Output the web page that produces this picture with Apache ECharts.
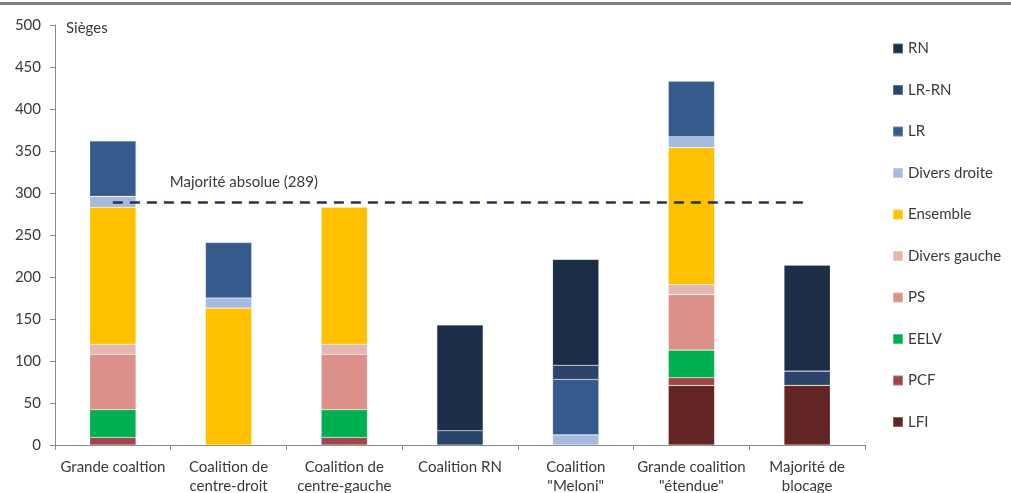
<!DOCTYPE html>
<html>
<head>
<meta charset="utf-8">
<script src="https://cdn.jsdelivr.net/npm/echarts@6/dist/echarts.min.js"></script>
<style>
  html, body { margin: 0; padding: 0; background: #fff; }
  #chart { width: 1011px; height: 493px; }
</style>
</head>
<body>
<div id="chart"></div>
<script>
// catégories (coalitions)
const categories = [
  'Grande coaltion',
  'Coalition de\ncentre-droit',
  'Coalition de\ncentre-gauche',
  'Coalition RN',
  'Coalition\n"Meloni"',
  'Grande coalition\n"étendue"',
  'Majorité de\nblocage'
]

// sièges par groupe (null = absent de la coalition)
const lfi = [null, null, null, null, null, 71, 71]
const pcf = [9, null, 9, null, null, 9, null]
const eelv = [33, null, 33, null, null, 33, null]
const ps = [66, null, 66, null, null, 66, null]
const diversGauche = [12, null, 12, null, null, 12, null]
const ensemble = [163, 163, 163, null, null, 163, null]
const diversDroite = [13, 12, null, null, 12, 13, null]
const lr = [66, 66, null, null, 66, 66, null]
const lrRn = [null, null, null, 17, 17, null, 17]
const rn = [null, null, null, 126, 126, null, 126]

const majorite = 289
const yTicks = { min: 0, max: 500, interval: 50 }

// ordre de pile : du bas vers le haut
const groups = [
  { name: 'LFI', data: lfi, color: '#632523' },
  { name: 'PCF', data: pcf, color: '#a0434a' },
  { name: 'EELV', data: eelv, color: '#00b050' },
  { name: 'PS', data: ps, color: '#dc908a' },
  { name: 'Divers gauche', data: diversGauche, color: '#e8b6b2' },
  { name: 'Ensemble', data: ensemble, color: '#ffc000' },
  { name: 'Divers droite', data: diversDroite, color: '#a6b9de' },
  { name: 'LR', data: lr, color: '#375a8c' },
  { name: 'LR-RN', data: lrRn, color: '#2b446b' },
  { name: 'RN', data: rn, color: '#1c2d48' }
]

const txt = '#3a3a3a'
const font = 'Lato'
const fs = 15

const chart = echarts.init(document.getElementById('chart'))

const series = groups.map((g, i) => {
  const s = {
    name: g.name,
    type: 'bar',
    stack: 'sieges',
    data: g.data,
    barWidth: '40%',
    itemStyle: {
      color: g.color,
      borderColor: 'rgba(255,255,255,0.3)',
      borderWidth: 0.6
    }
  }
  // ligne de majorité absolue sur la dernière série
  if (i === groups.length - 1) {
    s.markLine = {
      silent: true,
      symbol: 'none',
      lineStyle: { color: '#243553', type: [10, 7], width: 2.5 },
      label: {
        show: true,
        position: 'insideStartTop',
        formatter: 'Majorité absolue (' + majorite + ')',
        color: txt,
        fontFamily: font,
        fontSize: fs,
        distance: [57, 13]
      },
      data: [[{ coord: [0, majorite] }, { coord: [6, majorite] }]]
    }
  }
  return s
})

const option = {
  animation: false,
  backgroundColor: '#fff',
  textStyle: { fontFamily: font },
  graphic: [
    {
      type: 'rect',
      left: 0,
      top: 2,
      shape: { width: 1011, height: 3 },
      style: { fill: '#7f7f7f' }
    }
  ],
  grid: { left: 55, right: 146, top: 25, bottom: 48, outerBoundsMode: 'none', containLabel: false },
  legend: {
    orient: 'vertical',
    left: 892,
    top: 41,
    padding: 0,
    itemWidth: 10,
    itemHeight: 10,
    itemGap: 26.5,
    icon: 'rect',
    data: groups.map(g => g.name).reverse(),
    textStyle: { color: txt, fontSize: fs, fontFamily: font, lineHeight: 14 }
  },
  xAxis: {
    type: 'category',
    data: categories,
    axisLine: { lineStyle: { color: '#8c8c8c' } },
    axisTick: { show: true, length: 5, lineStyle: { color: '#8c8c8c' } },
    axisLabel: {
      color: txt,
      fontSize: fs,
      fontFamily: font,
      margin: 13,
      lineHeight: 19,
      interval: 0
    }
  },
  yAxis: {
    type: 'value',
    min: yTicks.min,
    max: yTicks.max,
    interval: yTicks.interval,
    name: 'Sièges',
    nameLocation: 'end',
    nameGap: -3,
    nameTextStyle: {
      color: txt,
      fontSize: fs,
      fontFamily: font,
      align: 'left',
      verticalAlign: 'middle',
      padding: [0, 0, 0, 11]
    },
    splitLine: { show: false },
    axisLine: { show: true, lineStyle: { color: '#8c8c8c' } },
    axisTick: { show: true, length: 5, lineStyle: { color: '#8c8c8c' } },
    axisLabel: { color: txt, fontSize: fs, fontFamily: font, margin: 14 }
  },
  series: series
}

chart.setOption(option)
</script>
</body>
</html>
